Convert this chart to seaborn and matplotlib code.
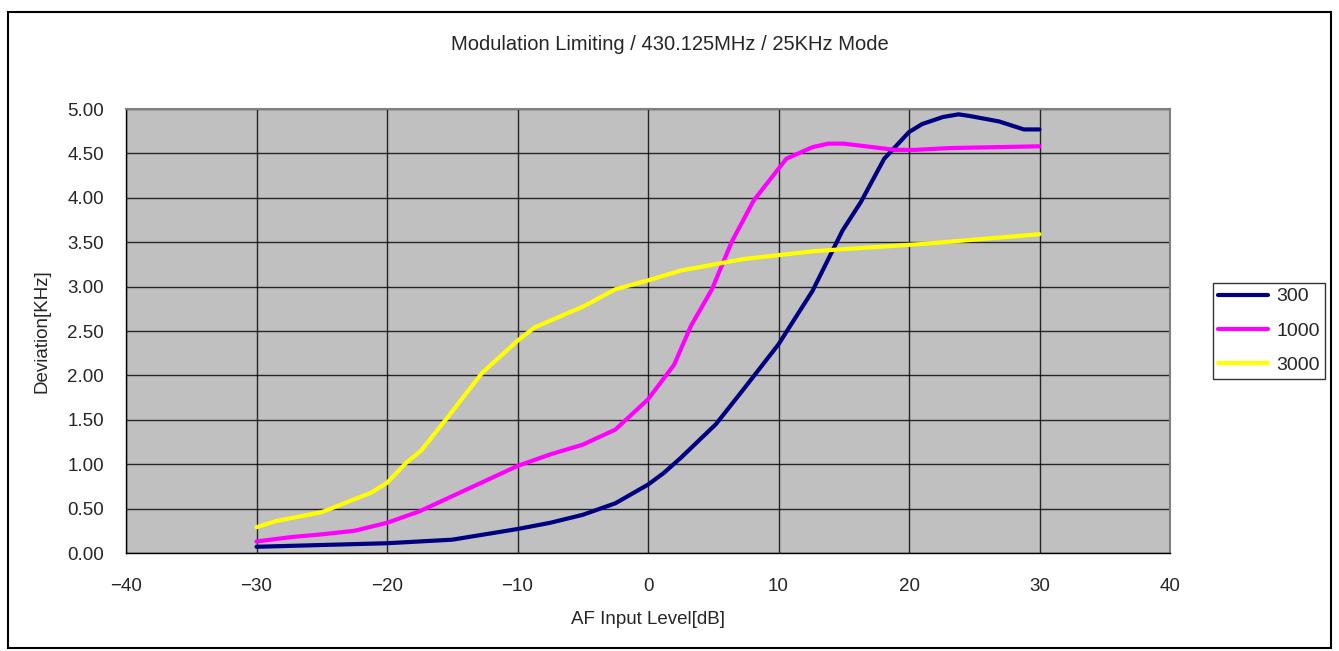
import pandas as pd
import seaborn as sns
import matplotlib.pyplot as plt
from matplotlib.patches import Rectangle

sns.set_theme(style="white")
plt.rcParams['font.family'] = ['Liberation Sans', 'DejaVu Sans']

# Data
x_300 = [-30, -25, -20, -15, -12.5, -10, -7.5, -5, -2.5, 0, 1.2, 2.5, 5.2, 7.3, 10, 12.6,
         14.9, 16.3, 18.1, 20, 21, 22.6, 23.8, 24.7, 26.9, 28.8, 30]
y_300 = [0.07, 0.09, 0.11, 0.15, 0.21, 0.27, 0.34, 0.43, 0.56, 0.77, 0.90, 1.07, 1.45, 1.84, 2.35, 2.95,
         3.63, 3.95, 4.44, 4.74, 4.83, 4.91, 4.94, 4.92, 4.86, 4.77, 4.77]

x_1000 = [-30, -27.3, -25, -22.5, -20, -17.5, -15, -12.5, -10, -7.5, -5, -2.5, 0, 2, 3.3, 4.9,
          6.4, 8.1, 10.6, 12.6, 13.8, 15, 18.9, 20.5, 23.1, 30]
y_1000 = [0.13, 0.18, 0.21, 0.25, 0.34, 0.47, 0.64, 0.81, 0.98, 1.11, 1.22, 1.39, 1.73, 2.12, 2.56, 2.97,
          3.50, 3.97, 4.44, 4.57, 4.61, 4.61, 4.54, 4.54, 4.56, 4.58]

x_3000 = [-30, -28.5, -25, -21.2, -20, -18.5, -17.4, -15.4, -12.7, -10, -8.7, -4.9, -2.5, 0, 2.5,
          7.3, 12.8, 20, 21, 30]
y_3000 = [0.29, 0.36, 0.46, 0.68, 0.79, 1.02, 1.15, 1.52, 2.03, 2.39, 2.54, 2.78, 2.97, 3.07, 3.18,
          3.31, 3.40, 3.47, 3.48, 3.59]

series = ['300', '1000', '3000']
colors = {'300': '#000080', '1000': '#FF00FF', '3000': '#FFFF00'}

df = pd.concat([
    pd.DataFrame({'level': x_300, 'dev': y_300, 'freq': '300'}),
    pd.DataFrame({'level': x_1000, 'dev': y_1000, 'freq': '1000'}),
    pd.DataFrame({'level': x_3000, 'dev': y_3000, 'freq': '3000'}),
])

fig = plt.figure(figsize=(13.39, 6.51), dpi=100)
ax = fig.add_axes([126 / 1339, 1 - 553 / 651, (1170 - 126) / 1339, (553 - 109) / 651])
ax.set_facecolor('#C0C0C0')

sns.lineplot(data=df, x='level', y='dev', hue='freq', hue_order=series, palette=colors,
             estimator=None, sort=False, linewidth=3, ax=ax)

ax.set_xlim(-40, 40)
ax.set_ylim(0, 5)
ax.set_xticks(range(-40, 41, 10))
ax.set_xticklabels([str(v).replace('-', '\u2212') for v in range(-40, 41, 10)])
ax.set_yticks([i * 0.5 for i in range(11)])
ax.set_yticklabels([f'{i * 0.5:.2f}' for i in range(11)])
ax.grid(True, color='black', linewidth=1, alpha=0.8)
ax.set_axisbelow(True)
ax.tick_params(axis='y', length=0, labelsize=13.5, pad=16)
ax.tick_params(axis='x', length=0, labelsize=13.5, pad=18)
for side in ['top', 'right']:
    ax.spines[side].set_color('#808080')
    ax.spines[side].set_linewidth(1.5)
for side in ['left', 'bottom']:
    ax.spines[side].set_color('black')
    ax.spines[side].set_linewidth(1)

ax.set_xlabel('AF Input Level[dB]', fontsize=13.5)
ax.set_ylabel('Deviation[KHz]', fontsize=13.5)
ax.xaxis.set_label_coords(0.5, (553 - 619) / 444, transform=ax.transAxes)
ax.yaxis.set_label_coords((42 - 126) / 1044, 0.5, transform=ax.transAxes)
ax.xaxis.label.set_va('center')
ax.yaxis.label.set_va('center')

fig.text(0.5, 1 - 44 / 651, 'Modulation Limiting / 430.125MHz / 25KHz Mode',
         ha='center', va='center', fontsize=14.5)

leg = ax.legend(loc='upper left', bbox_to_anchor=(1213 / 1339, 1 - 283 / 651),
                bbox_transform=fig.transFigure, frameon=True, fancybox=False,
                shadow=False, fontsize=14, handlelength=2.6, handletextpad=0.4,
                borderpad=0.25, labelspacing=0.85, borderaxespad=0)
leg.get_frame().set_edgecolor('black')
leg.get_frame().set_linewidth(1)

fig.patches.append(Rectangle((8 / 1339, 3 / 651), 1323 / 1339, 636 / 651,
                             transform=fig.transFigure, fill=False,
                             edgecolor='black', linewidth=1.5))

plt.savefig('out.png', dpi=100)
